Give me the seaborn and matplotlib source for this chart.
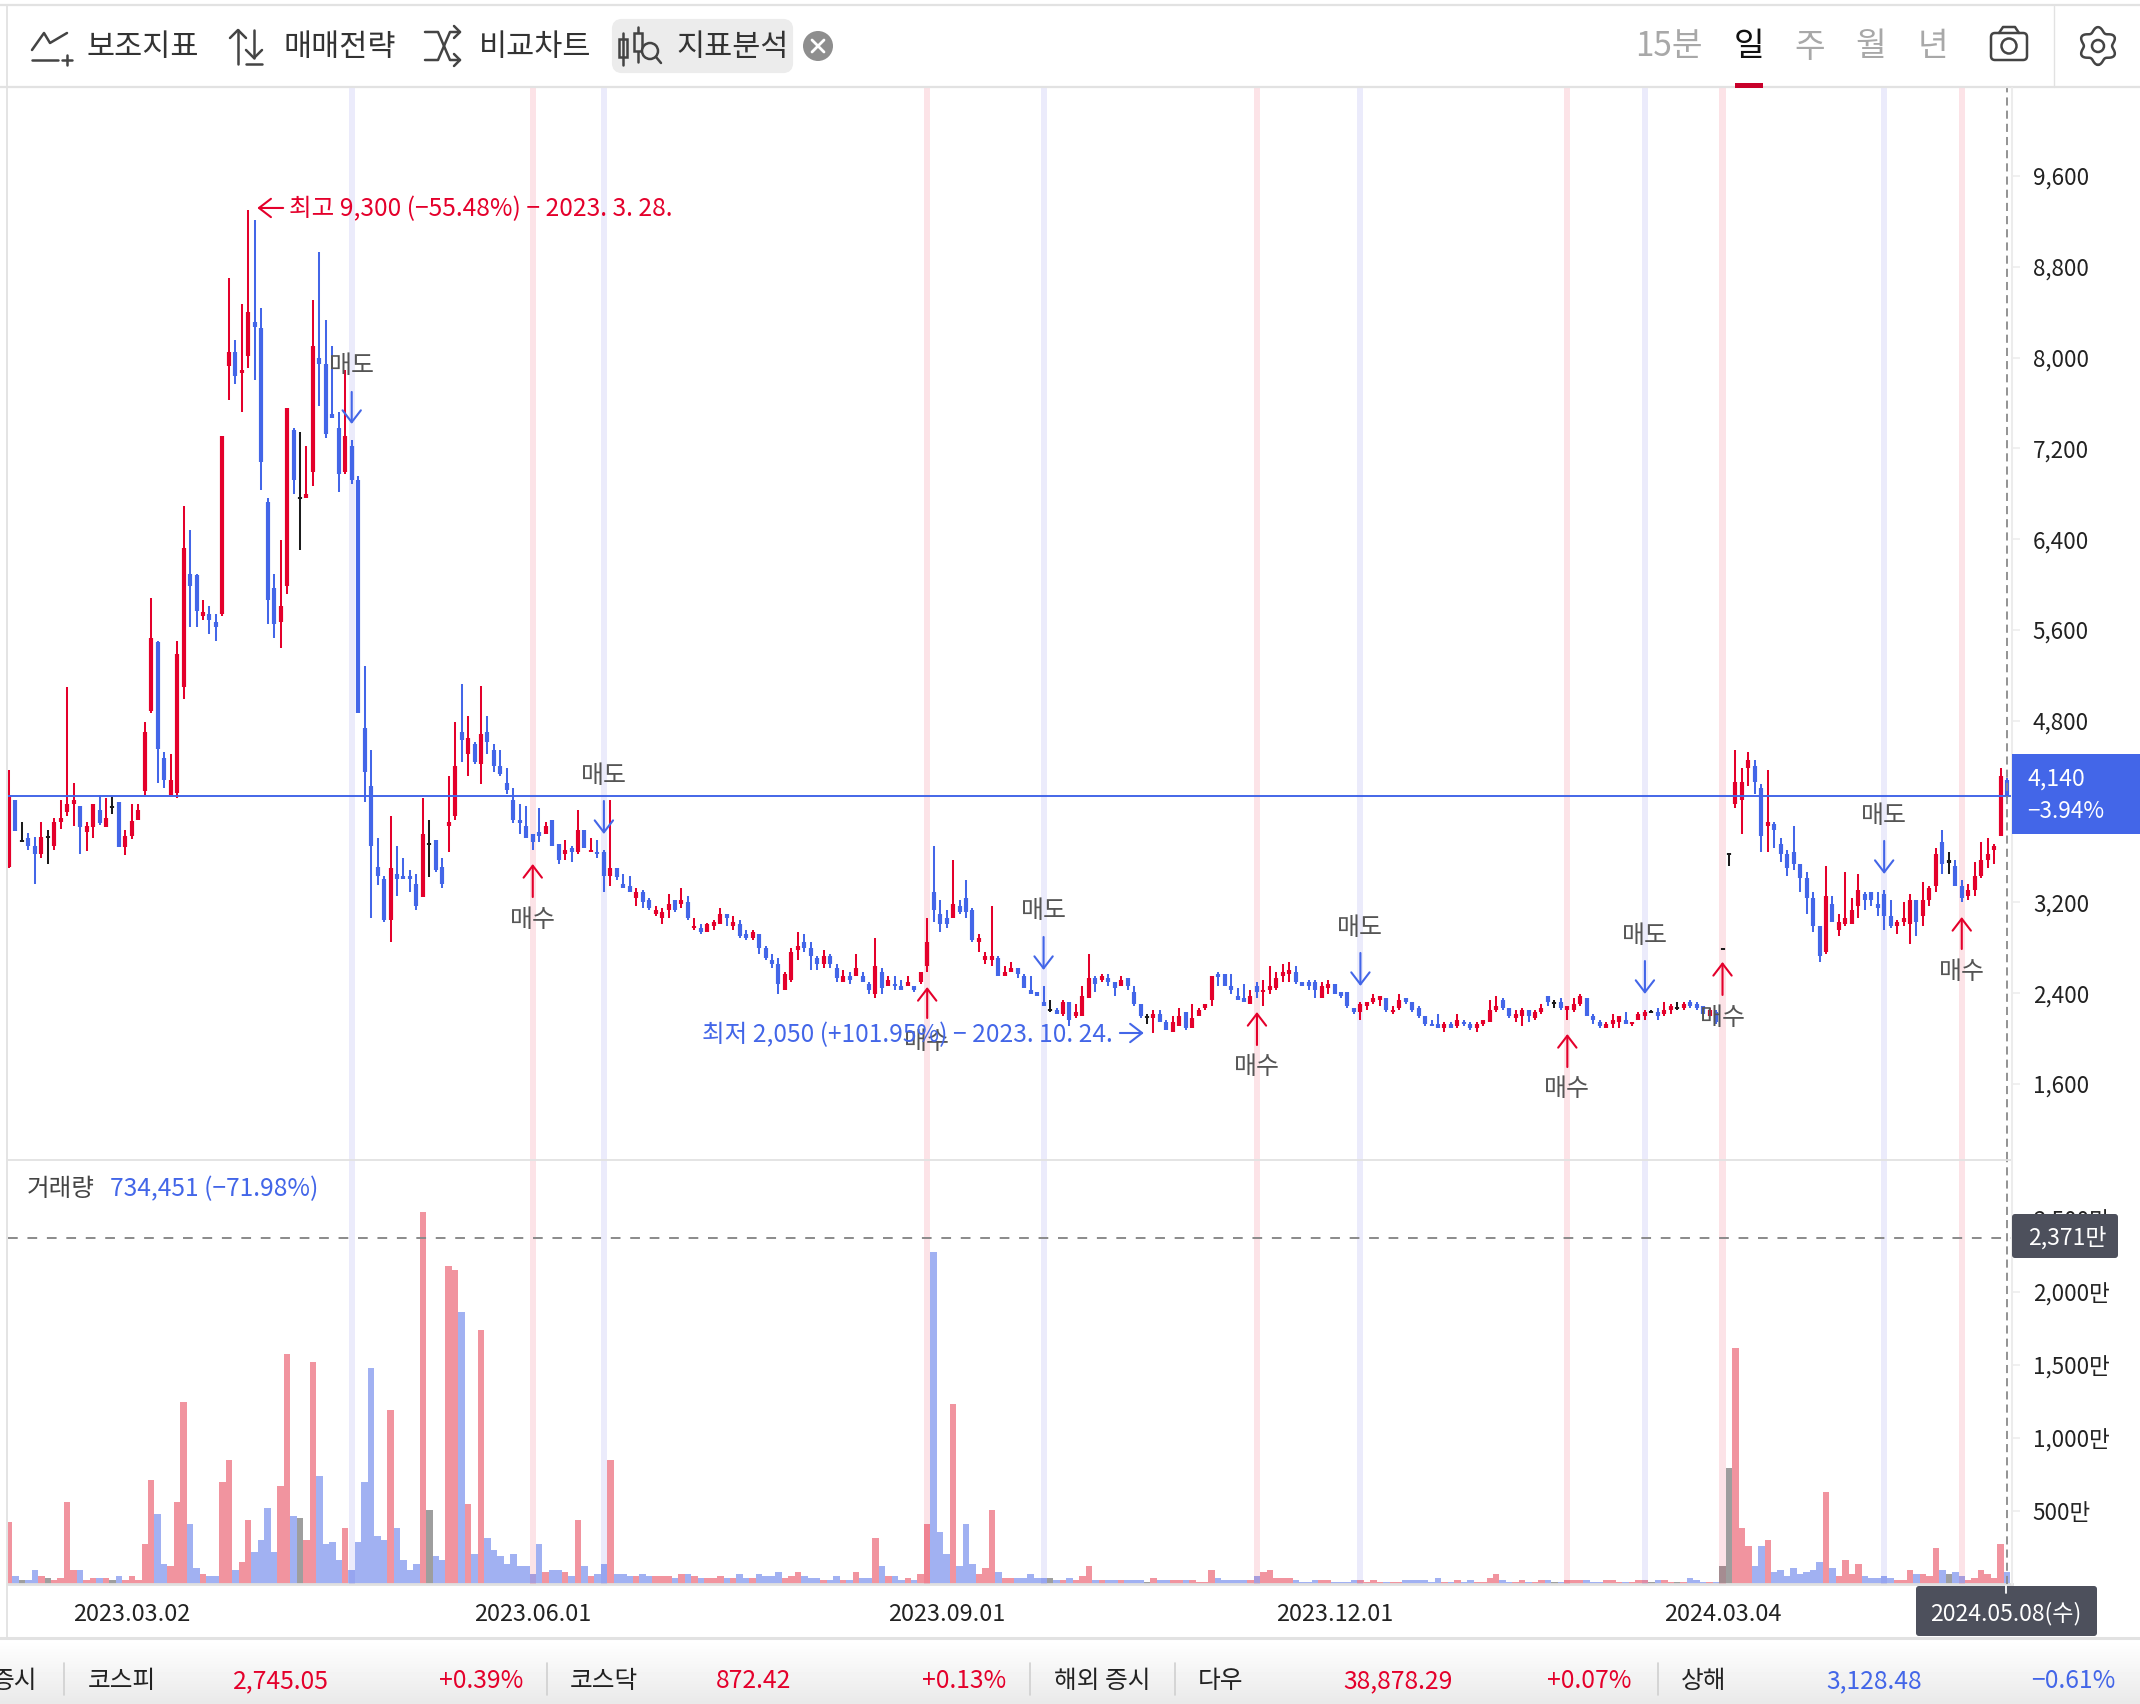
import numpy as np
import pandas as pd
import matplotlib
matplotlib.use("Agg")
import matplotlib.pyplot as plt
import seaborn as sns
from matplotlib.patches import Rectangle, FancyBboxPatch, Circle

opens = [3515,4100,3740,3765,3695,3630,3775,3695,3905,3995,
 4070,4050,3820,3860,4015,3860,4040,4085,3685,3785,
 3930,4185,4885,5495,4475,4145,4165,5095,6090,6080,
 5720,5740,5670,5740,7925,8050,7860,8015,8310,8260,
 6730,5970,5670,5990,7365,6760,6765,6990,7995,7945,
 7500,7380,6990,7220,6925,4740,4225,3515,3405,3045,
 3450,3435,3435,3360,3245,3710,3750,3515,3875,3960,
 4700,4510,4595,4420,4700,4540,4400,4255,4100,3925,
 3875,3805,3820,3805,3925,3710,3625,3680,3645,3840,
 3645,3645,3645,3435,3500,3360,3345,3240,3290,3220,
 3100,3065,3135,3220,3185,3205,2975,2975,2940,2990,
 3010,3100,2990,3010,2920,2885,2920,2800,2695,2655,
 2430,2515,2780,2850,2800,2710,2655,2730,2620,2500,
 2550,2550,2550,2480,2395,2585,2465,2480,2465,2465,
 2465,2500,2640,3290,3100,3065,3065,3170,3240,3135,
 2850,2695,2695,2710,2550,2585,2620,2550,2430,2410,
 2325,2250,2250,2215,2325,2200,2200,2360,2535,2515,
 2535,2500,2465,2535,2410,2305,2190,2180,2215,2145,
 2060,2110,2235,2095,2200,2270,2340,2570,2570,2465,
 2375,2360,2305,2465,2410,2430,2445,2550,2570,2585,
 2500,2500,2500,2360,2445,2480,2410,2410,2270,2235,
 2290,2325,2340,2360,2235,2270,2360,2325,2270,2200,
 2130,2130,2095,2130,2110,2145,2130,2095,2130,2145,
 2250,2340,2270,2180,2200,2250,2180,2235,2375,2310,
 2325,2250,2250,2305,2360,2200,2145,2095,2130,2145,
 2165,2130,2165,2200,2230,2235,2215,2250,2270,2270,
 2320,2305,2285,2200,2235,2790,3625,4065,4100,4385,
 4400,4210,3875,3890,3715,3625,3645,3540,3415,3240,
 2990,2765,3185,2955,3010,3010,3170,3275,3290,3185,
 3275,3080,2990,3025,3010,3220,3080,3220,3345,3730,
 3560,3520,3345,3255,3310,3430,3575,3660,3785,4280]
highs = [4365,4100,3905,3815,3780,3905,3835,3940,4100,5100,
 4255,4050,3905,4070,4145,4120,4130,4085,3835,4070,
 4070,4790,5885,5505,4525,4510,5505,6695,6480,6090,
 5865,5810,5740,7310,8705,8155,8475,9300,9210,8435,
 6765,6095,6390,7555,7380,7345,7220,8510,8930,8330,
 8100,7520,7890,7275,6960,5280,4545,3765,3435,3960,
 3695,3590,3485,3450,4120,3925,3750,3590,4315,4790,
 5125,4840,4610,5105,4840,4595,4540,4385,4210,4070,
 4050,3805,4030,3905,3925,3710,3750,3695,4015,3840,
 3770,3750,3660,4100,3505,3450,3435,3325,3310,3240,
 3170,3150,3275,3220,3325,3255,3065,3010,3020,3045,
 3150,3100,3080,3045,2955,2955,2920,2815,2745,2710,
 2585,2800,2940,2920,2850,2730,2780,2745,2655,2605,
 2585,2745,2585,2500,2885,2620,2550,2550,2515,2550,
 2465,2585,3065,3695,3220,3135,3575,3220,3395,3150,
 2920,2765,3170,2730,2640,2675,2620,2570,2550,2410,
 2465,2340,2270,2340,2325,2305,2465,2745,2550,2570,
 2570,2500,2550,2535,2465,2305,2215,2250,2250,2165,
 2200,2270,2235,2305,2270,2305,2550,2585,2570,2570,
 2445,2480,2430,2500,2515,2640,2585,2660,2675,2640,
 2500,2515,2515,2500,2515,2480,2410,2410,2270,2325,
 2325,2395,2375,2360,2290,2395,2360,2325,2285,2200,
 2165,2215,2145,2145,2215,2165,2145,2145,2165,2340,
 2375,2360,2270,2250,2270,2250,2250,2305,2375,2340,
 2360,2285,2360,2395,2360,2215,2165,2145,2215,2200,
 2235,2145,2235,2250,2250,2270,2320,2305,2320,2320,
 2340,2320,2285,2270,2250,2790,3625,4545,4385,4525,
 4455,4245,4365,3910,3765,3660,3875,3540,3470,3290,
 2990,3520,3255,3100,3470,3240,3450,3290,3290,3290,
 3310,3220,3045,3205,3275,3220,3380,3345,3680,3840,
 3645,3575,3395,3360,3555,3730,3765,3715,4385,4295]
lows = [3500,3825,3735,3665,3365,3590,3540,3665,3845,3960,
 3875,3630,3650,3770,3880,3860,3980,3685,3615,3755,
 3930,4145,4865,4250,4210,4145,4120,4990,5625,5625,
 5685,5565,5500,5720,7630,7770,7520,7905,7805,6835,
 5655,5530,5445,5915,6795,6305,6765,6870,7575,7290,
 7465,6815,6970,6885,4865,4085,3060,3350,3025,2855,
 3260,3405,3290,3135,3245,3420,3465,3325,3645,3925,
 4435,4315,4420,4245,4510,4345,4315,4155,3895,3805,
 3765,3665,3730,3805,3695,3540,3575,3555,3625,3680,
 3645,3590,3290,3345,3395,3325,3290,3170,3150,3135,
 3080,3010,3065,3115,3150,3045,2955,2920,2940,2955,
 3010,2990,2955,2885,2870,2870,2745,2695,2620,2395,
 2430,2500,2695,2765,2605,2605,2620,2620,2500,2500,
 2480,2550,2500,2395,2360,2395,2465,2430,2430,2465,
 2410,2480,2585,3025,2940,2975,3065,3100,3065,2850,
 2765,2655,2640,2550,2550,2585,2535,2445,2395,2375,
 2285,2235,2215,2200,2110,2180,2200,2360,2410,2500,
 2465,2375,2465,2430,2290,2180,2130,2050,2145,2075,
 2060,2110,2075,2095,2200,2250,2285,2465,2465,2395,
 2340,2325,2305,2360,2290,2395,2430,2500,2500,2480,
 2465,2430,2360,2360,2395,2395,2360,2270,2215,2165,
 2250,2305,2290,2235,2215,2250,2305,2235,2180,2110,
 2110,2095,2060,2095,2095,2110,2075,2060,2110,2145,
 2235,2250,2180,2145,2110,2145,2165,2215,2290,2270,
 2250,2165,2235,2290,2200,2130,2095,2095,2095,2095,
 2130,2110,2165,2165,2230,2165,2200,2215,2250,2250,
 2270,2250,2215,2200,2130,2790,3520,4030,3805,4225,
 4155,3645,3645,3680,3555,3435,3485,3290,3100,2940,
 2675,2745,3025,2905,2990,3010,3060,3135,3170,3080,
 2955,2975,2920,2990,2835,2905,2990,3170,3290,3450,
 3450,3345,3205,3220,3255,3415,3505,3540,3785,4120]
closes = [4145,3825,3740,3695,3630,3780,3775,3905,3940,4070,
 4100,3860,3875,4070,3895,3940,4040,3685,3785,3920,
 4015,4700,5525,4550,4280,4275,5390,6325,5990,5765,
 5760,5685,5625,7310,8050,7840,7890,8400,8265,7080,
 5865,5655,5810,7555,6925,6760,6795,8100,7945,7325,
 7465,6970,7310,6925,4865,4345,3695,3435,3045,3500,
 3405,3405,3405,3170,3800,3710,3485,3365,3905,4400,
 4630,4650,4435,4685,4610,4400,4330,4190,3925,3895,
 3765,3730,3785,3875,3695,3575,3660,3645,3840,3680,
 3660,3625,3435,3505,3420,3325,3290,3290,3205,3150,
 3135,3115,3185,3135,3220,3065,2990,2940,3010,3025,
 3100,3065,3025,2905,2885,2940,2800,2710,2655,2480,
 2570,2765,2815,2800,2730,2655,2730,2655,2535,2550,
 2515,2620,2500,2430,2640,2445,2515,2465,2430,2500,
 2430,2585,2850,3135,3010,3010,3185,3115,3115,2870,
 2885,2730,2730,2550,2585,2620,2570,2445,2395,2375,
 2285,2250,2215,2325,2165,2235,2375,2535,2480,2550,
 2500,2445,2515,2465,2305,2200,2190,2215,2145,2075,
 2145,2200,2095,2180,2250,2305,2550,2545,2465,2430,
 2340,2325,2375,2410,2430,2465,2535,2585,2605,2500,
 2465,2465,2430,2465,2480,2395,2375,2290,2235,2305,
 2325,2360,2375,2250,2250,2340,2325,2250,2200,2130,
 2110,2095,2130,2095,2165,2130,2095,2130,2165,2250,
 2290,2270,2200,2215,2250,2200,2235,2270,2325,2310,
 2270,2285,2305,2375,2200,2165,2110,2130,2165,2200,
 2130,2145,2215,2235,2230,2200,2250,2285,2270,2305,
 2285,2270,2215,2250,2145,2790,3625,4260,4260,4455,
 4260,3785,3910,3840,3625,3505,3540,3415,3240,2990,
 2730,3255,3025,3025,3060,3135,3310,3220,3220,3150,
 3080,2990,3025,3060,3220,3025,3220,3325,3625,3540,
 3560,3345,3240,3310,3430,3575,3625,3695,4315,4140]
volumes = [427,57,30,30,98,57,43,30,43,564,
 98,98,30,43,43,43,30,57,30,57,
 30,276,715,482,139,126,564,1249,413,112,
 71,57,57,701,852,98,153,441,221,304,
 523,221,673,1578,468,454,304,1523,742,276,
 290,167,386,98,290,701,1482,331,304,1194,
 386,167,98,139,2550,509,194,167,2180,2153,
 1865,550,208,1742,317,235,194,139,208,126,
 126,71,276,84,98,98,84,57,441,126,
 57,71,139,852,71,71,57,57,71,57,
 57,57,57,43,71,71,57,43,43,43,
 57,43,43,71,43,43,71,57,57,84,
 43,57,84,57,43,43,30,30,57,30,
 30,84,43,43,317,126,57,57,30,43,
 30,71,413,2276,358,208,1235,126,413,139,
 71,112,509,84,43,43,43,43,71,43,
 43,43,30,30,43,30,57,126,30,30,
 30,30,30,30,30,30,16,43,30,30,
 30,30,30,30,16,16,98,43,30,30,
 30,30,30,57,84,98,43,43,43,30,
 16,16,30,30,30,16,16,16,30,30,
 16,30,16,16,16,16,30,30,30,30,
 16,43,16,16,30,16,30,16,16,43,
 71,30,16,16,30,16,16,30,30,16,
 16,30,30,30,30,16,16,30,30,16,
 16,16,30,30,16,30,30,16,16,16,
 43,30,16,16,16,126,797,1619,386,263,
 126,263,304,84,98,57,112,71,84,98,
 153,632,112,57,167,71,139,57,43,43,
 57,43,30,30,98,71,71,57,249,98,
 71,84,57,30,43,98,71,43,276,84]

price_ticks = [1600,2400,3200,4800,5600,6400,7200,8000,8800,9600]
volume_ticks = [500,1000,1500,2000,2500]
date_ticks = [19,81,145,205,265]
date_labels = ["2023.03.02","2023.06.01","2023.09.01","2023.12.01","2024.03.04"]
buy_idx = [81,142,193,241,265,302]
buy_tip = [3538,2454,2234,2040,2675,3071]
buy_tail = [3247,2181,1943,1749,2384,2789]
buy_text = [3045,1970,1749,1556,2181,2587]
sell_idx = [53,92,160,209,253,290]
sell_text = [7926,4313,3124,2974,2904,3961]
sell_tail = [7697,4093,2895,2754,2683,3741]
sell_tip = [7415,3802,2604,2463,2393,3450]
last_price = 4140
prior_peak_volume = 2371

RED = "#E4002B"; BLUE = "#4366E8"; BLACK = "#1c1c1c"
VOL_PAL = {"up": "#F1949F", "down": "#A1B1F2", "flat": "#9E9E9E"}
FONT = ["Noto Sans CJK KR", "DejaVu Sans"]

sns.set_theme(style="white")
plt.rcParams["font.family"] = FONT
plt.rcParams["axes.unicode_minus"] = False

W, H = 2140, 1704
fig = plt.figure(figsize=(W/100, H/100), dpi=100, facecolor="white")
def rect(l, t, r, b):
    return [l/W, 1-b/H, (r-l)/W, (b-t)/H]

xlim = (-0.155, 309.77)
ax = fig.add_axes(rect(8, 88, 2012, 1160))
vx = fig.add_axes(rect(8, 1160, 2012, 1584))

df = pd.DataFrame(dict(i=np.arange(len(opens)), o=opens, h=highs, l=lows, c=closes, v=volumes))
df["kind"] = np.where(df.c > df.o, "up", np.where(df.c < df.o, "down", "flat"))
cmap = {"up": RED, "down": BLUE, "flat": BLACK}
df["col"] = df.kind.map(cmap)

# volume
sns.barplot(data=df, x="i", y="v", hue="kind", palette=VOL_PAL, dodge=False, native_scale=True,
            width=1.0, gap=0, saturation=1, linewidth=0, legend=False, ax=vx, zorder=2)
vx.set_xlim(*xlim); vx.set_ylim(0, 2904)
vx.set_xlabel(""); vx.set_ylabel("")

# candles
ax.vlines(df.i, df.l, df.h, colors=df.col, lw=1.45, zorder=3, capstyle="butt")
mid = (df.o + df.c)/2
half = np.maximum(np.abs(df.c-df.o)/2, 9)
ax.vlines(df.i, mid-half, mid+half, colors=df.col, lw=3.0, zorder=3.1, capstyle="butt")
ax.set_xlim(*xlim); ax.set_ylim(930, 10375)

for a in (ax, vx):
    for i in buy_idx:
        a.axvspan(i-0.47, i+0.47, color="#E4002B", alpha=0.11, lw=0, zorder=1 if a is ax else 4)
    for i in sell_idx:
        a.axvspan(i-0.47, i+0.47, color="#3C3CE0", alpha=0.10, lw=0, zorder=1 if a is ax else 4)
    a.axvline(309, color="#8A8A8A", lw=1.3, ls=(0, (4.5, 2.8)), zorder=6)
    a.set_facecolor("none")
    for s in a.spines.values():
        s.set_visible(False)
    a.yaxis.tick_right()
    a.tick_params(axis="y", length=6, width=1.2, color="#EEEEEE", pad=9, labelsize=16.2, labelcolor="#222222")

ax.set_xticks([])
ax.set_yticks(price_ticks)
ax.set_yticklabels([f"{p:,}" for p in price_ticks])
vx.set_yticks(volume_ticks)
vx.set_yticklabels([f"{p:,}만" for p in volume_ticks])
vx.set_xticks(date_ticks)
vx.set_xticklabels(date_labels)
vx.tick_params(axis="x", length=9, width=1.2, color="#DDDDDD", pad=5, labelsize=16.9, labelcolor="#222222")
vx.spines["bottom"].set_visible(True)
vx.spines["bottom"].set_color("#E0E0E0")
vx.spines["bottom"].set_linewidth(2)

ax.axhline(last_price, color=BLUE, lw=1.4, zorder=5)
vx.axhline(prior_peak_volume, color="#8A8A8A", lw=1.4, ls=(0, (5, 5)), zorder=6)

# signals
ARROW = "->,head_length=0.43,head_width=0.33"
def arrow(a, x0, y0, x1, y1, color, ms=20):
    a.annotate("", xy=(x1, y1), xytext=(x0, y0),
               arrowprops=dict(arrowstyle=ARROW, color=color, lw=1.5, mutation_scale=ms,
                               shrinkA=0, shrinkB=0), zorder=7)
LABEL = 18
for i, t, a0, a1 in zip(sell_idx, sell_text, sell_tail, sell_tip):
    ax.text(i, t, "매도", ha="center", va="center", fontsize=LABEL, color="#555555", zorder=8)
    arrow(ax, i, a0, i, a1, BLUE)
for i, t, a0, a1 in zip(buy_idx, buy_text, buy_tail, buy_tip):
    ax.text(i, t, "매수", ha="center", va="center", fontsize=LABEL, color="#555555", zorder=8)
    arrow(ax, i, a0, i, a1, RED)

arrow(ax, 42.4, 9318, 38.4, 9318, RED)
ax.text(43.3, 9305, "최고 9,300 (−55.48%) − 2023. 3. 28.", color=RED, fontsize=17.7, va="center", ha="left", zorder=8)
ax.text(107.2, 2035, "최저 2,050 (+101.95%) − 2023. 10. 24.", color=BLUE, fontsize=17.7, va="center", ha="left", zorder=8)
arrow(ax, 171.8, 2049, 175.5, 2049, BLUE)

# page chrome in pixels
ov = fig.add_axes([0, 0, 1, 1], zorder=10)
ov.set_facecolor("none")
ov.set_xlim(0, W); ov.set_ylim(H, 0); ov.axis("off")
grad = np.linspace(1.0, 0.915, 64).reshape(-1, 1)
ov.imshow(grad, extent=(0, W, 1704, 1640), cmap="gray", vmin=0, vmax=1, aspect="auto", zorder=0)
ov.set_xlim(0, W); ov.set_ylim(H, 0)
LG = "#E2E2E2"
ov.plot([0, W], [5, 5], color=LG, lw=1.6)
ov.plot([0, W], [87, 87], color=LG, lw=1.6)
ov.plot([0, W], [1638, 1638], color=LG, lw=2.2)
ov.plot([8, 2012], [1160, 1160], color=LG, lw=1.3)
ov.plot([7, 7], [6, 1638], color=LG, lw=1.3)
ov.plot([2012, 2012], [88, 1584], color="#ECECEC", lw=1.5)
ov.plot([2054, 2054], [6, 87], color=LG, lw=1)

ov.add_patch(FancyBboxPatch((614, 21), 177, 50, boxstyle="round,pad=0,rounding_size=8", fc="#ECECEC", ec="#ECECEC", lw=3, zorder=1))
TC = "#333333"
for x, s in [(86, "보조지표"), (284, "매매전략"), (479, "비교차트"), (676, "지표분석")]:
    ov.text(x, 47, s, fontsize=22, color=TC, va="center", ha="left", zorder=3)
for x, s, c, w in [(1669, "15분", "#A8A8A8", "normal"), (1749, "일", "#111111", "medium"),
                   (1810, "주", "#A8A8A8", "normal"), (1871, "월", "#A8A8A8", "normal"), (1933, "년", "#A8A8A8", "normal")]:
    ov.text(x, 47, s, fontsize=24, color=c, va="center", ha="center", fontweight=w, zorder=3)
ov.add_patch(Rectangle((1735, 83), 28, 4.5, fc="#C8002A", ec="none", zorder=3))
ov.add_patch(Circle((818, 46), 15, fc="#8E8E8E", ec="none", zorder=3))
ov.plot([812, 824], [40, 52], color="white", lw=2, zorder=4)
ov.plot([812, 824], [52, 40], color="white", lw=2, zorder=4)

ic = dict(color="#444444", lw=1.8, zorder=4, solid_capstyle="round")
# chart-plus icon
ov.plot([32, 44, 50, 67], [50, 33, 43, 33], **ic)
ov.plot([32, 58], [60, 60], **ic); ov.plot([62, 72], [60, 60], **ic); ov.plot([67, 67], [55, 65], **ic)
# up/down arrows
ov.plot([238, 238], [30, 64], **ic); ov.plot([230, 238, 246], [38, 30, 38], **ic)
ov.plot([254, 254], [30, 58], **ic); ov.plot([246, 254, 262], [50, 58, 50], **ic); ov.plot([246, 262], [64, 64], **ic)
# shuffle
ov.plot([425, 438, 450, 460], [32, 32, 60, 60], **ic); ov.plot([425, 438, 450, 460], [60, 60, 32, 32], **ic)
ov.plot([454, 460, 454], [26, 32, 38], **ic); ov.plot([454, 460, 454], [54, 60, 66], **ic)
# candles + magnifier
ov.plot([623, 623], [33, 65], **ic); ov.add_patch(Rectangle((619, 39), 8, 18, fc="none", ec="#444444", lw=1.8, zorder=4))
ov.plot([638, 638], [27, 62], **ic); ov.add_patch(Rectangle((634, 33), 8, 18, fc="#ECECEC", ec="#444444", lw=1.8, zorder=4))
ov.add_patch(Circle((650, 51), 8, fc="#ECECEC", ec="#444444", lw=1.8, zorder=4)); ov.plot([656, 661], [57, 63], **ic)
# camera
ov.add_patch(FancyBboxPatch((1991, 33), 36, 27, boxstyle="round,pad=0,rounding_size=4", fc="none", ec="#444444", lw=1.8, zorder=4))
ov.plot([1999, 2003, 2015, 2019], [33, 27, 27, 33], **ic)
ov.add_patch(Circle((2009, 46), 7.5, fc="none", ec="#444444", lw=1.8, zorder=4))
# gear
ang = np.radians(np.arange(0, 361, 4))
rad = 16.5 + 2.4*np.cos(6*ang)
ov.plot(2098+rad*np.sin(ang), 46+rad*np.cos(ang), **ic)
ov.add_patch(Circle((2098, 46), 6, fc="none", ec="#444444", lw=1.8, zorder=4))

# labels
ov.text(27, 1189, "거래량", fontsize=17.7, color="#444444", va="center", ha="left")
ov.text(110, 1189, "734,451 (−71.98%)", fontsize=17.7, color=BLUE, va="center", ha="left")
ov.add_patch(Rectangle((2012, 754), 128, 80, fc=BLUE, ec="none", zorder=3))
ov.text(2027, 779, f"{last_price:,}", fontsize=16.6, color="white", va="center", ha="left", zorder=4)
ov.text(2027, 811, "−3.94%", fontsize=16.2, color="white", va="center", ha="left", zorder=4)
ov.add_patch(FancyBboxPatch((2012, 1214), 106, 44, boxstyle="round,pad=0,rounding_size=3", fc="#4D505C", ec="none", zorder=3))
ov.text(2028, 1238, "2,371만", fontsize=16.5, color="white", va="center", ha="left", zorder=4)
ov.add_patch(FancyBboxPatch((1916, 1586), 181, 50, boxstyle="round,pad=0,rounding_size=3", fc="#4D505C", ec="none", zorder=3))
ov.plot([2006, 2006], [1586, 1593], color="white", lw=1.3, zorder=4)
ov.text(2006, 1614, "2024.05.08(수)", fontsize=16.6, color="white", va="center", ha="center", zorder=4)

# market strip
for x in [64, 547, 1030, 1175, 1658]:
    ov.plot([x, x], [1663, 1695], color="#D0D0D0", lw=1.2)
y0 = 1681
kw = dict(fontsize=17.8, va="center")
ov.text(37, y0, "증시", color="#222222", ha="right", fontweight="medium", **kw)
ov.text(88, y0, "코스피", color="#222222", ha="left", **kw)
ov.text(233, y0, "2,745.05", color=RED, ha="left", fontweight="medium", **kw)
ov.text(523, y0, "+0.39%", color=RED, ha="right", **kw)
ov.text(570, y0, "코스닥", color="#222222", ha="left", **kw)
ov.text(716, y0, "872.42", color=RED, ha="left", fontweight="medium", **kw)
ov.text(1006, y0, "+0.13%", color=RED, ha="right", **kw)
ov.text(1054, y0, "해외 증시", color="#222222", ha="left", fontweight="medium", **kw)
ov.text(1198, y0, "다우", color="#222222", ha="left", **kw)
ov.text(1343, y0, "38,878.29", color=RED, ha="left", fontweight="medium", **kw)
ov.text(1632, y0, "+0.07%", color=RED, ha="right", **kw)
ov.text(1681, y0, "상해", color="#222222", ha="left", **kw)
ov.text(1826, y0, "3,128.48", color=BLUE, ha="left", fontweight="medium", **kw)
ov.text(2115, y0, "−0.61%", color=BLUE, ha="right", **kw)

fig.savefig("out.png", dpi=100, facecolor="white")
